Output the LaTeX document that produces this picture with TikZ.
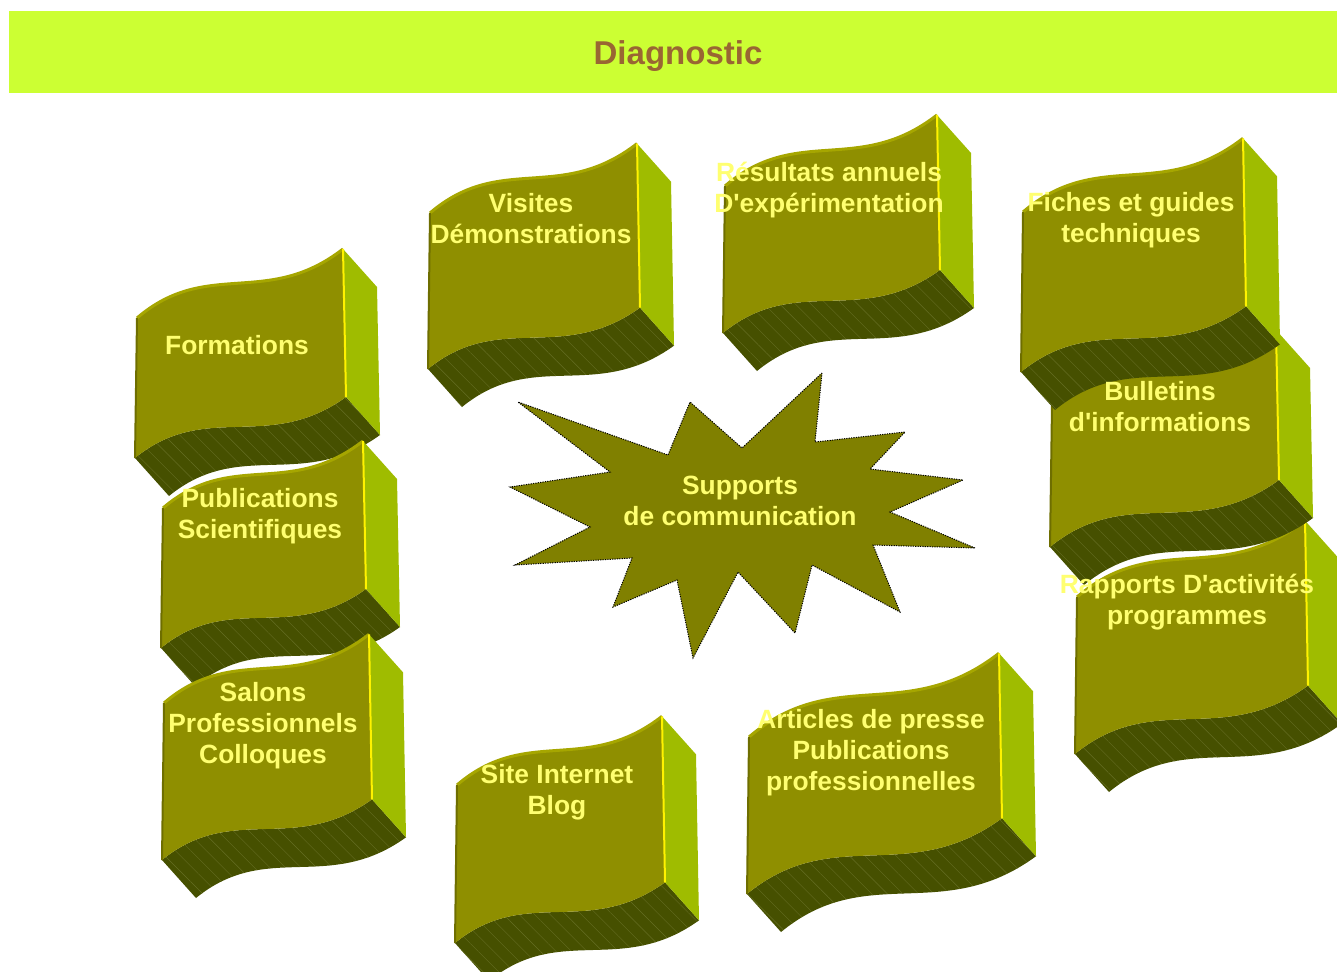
\documentclass[tikz,border=0pt]{standalone}
\usepackage{fontspec}
\setmainfont{Liberation Sans}
\usetikzlibrary{positioning, patterns.meta}

\definecolor{bannergreen}{HTML}{CCFF33}
\definecolor{titlebrown}{HTML}{996633}
\definecolor{labelyellow}{HTML}{FFFF70}
\definecolor{docfront}{HTML}{8F8F00}
\definecolor{docrimc}{HTML}{A6A600}
\definecolor{docleftc}{HTML}{6E6E00}
\definecolor{docsidec}{HTML}{9FBC00}
\definecolor{docbottomc}{HTML}{465000}
\definecolor{dochatch}{HTML}{8A9250}
\definecolor{staroliv}{HTML}{808000}

% wave shaped 3D block: #1 x, #2 y (front top left), #3 width, #4 height
\newcommand{\wavedoc}[4]{%
  \pgfmathsetmacro\wr{0.335*#3}%
  \coordinate (tl) at (#1,#2);
  \coordinate (t1) at (#1+0.34*#3,#2-0.87*\wr);
  \coordinate (t2) at (#1+0.63*#3,#2-0.14*\wr);
  \coordinate (tr) at (#1+#3,#2-\wr);
  \coordinate (br) at (#1+#3+3,#2-\wr+#4+8);
  \coordinate (b2) at (#1+0.63*#3+1,#2-0.14*\wr+#4+5);
  \coordinate (b1) at (#1+0.34*#3-1,#2-0.87*\wr+#4+2);
  \coordinate (bl) at (#1-2,#2+#4);
  % bottom and side faces
  \path[docbottom] (bl) .. controls (b1) and (b2) .. (br)
    -- ([shift={(34,38)}]br) .. controls ([shift={(34,38)}]b2) and ([shift={(34,38)}]b1) .. ([shift={(34,38)}]bl) -- cycle;
  \fill[docsidec] (tr) -- ([shift={(34,38)}]tr) -- ([shift={(34,38)}]br) -- (br) -- cycle;
  % front face
  \fill[docfront] (tl) .. controls (t1) and (t2) .. (tr) -- (br) .. controls (b2) and (b1) .. (bl) -- cycle;
  \draw[docrimc, line width=1.5pt] (tl) .. controls (t1) and (t2) .. (tr);
  \draw[docleftc, line width=1pt] (bl) -- (tl);
  \draw[yellow, line width=1pt] (tr) -- (br);
}

\begin{document}
\begin{tikzpicture}
    [
    x=0.5pt, y=-0.5pt,
    docbottom/.style = {fill=docbottomc, postaction={pattern={Lines[angle=-45,distance=5.5pt,line width=0.2pt]}, pattern color=dochatch!45!docbottomc}},
    doclabel/.style = {align=center, inner sep=0pt, text=labelyellow, font=\fontsize{13.2}{15.5}\selectfont\bfseries},
    title/.style = {inner sep=0pt, text=titlebrown, font=\fontsize{16.5}{18}\selectfont\bfseries},
    starburst/.style = {fill=staroliv, draw=black, line width=0.5pt, dash pattern=on 0.6pt off 0.6pt}
    ]
    \useasboundingbox (0,0) rectangle (1337,971);

    \fill[bannergreen] (9,11) rectangle (1337,93);
    \node[title] (diag) at (678,56) {Diagnostic};

    % left column
    \wavedoc{137}{318}{206}{140}
    \wavedoc{163}{508}{200}{140}
    \wavedoc{164}{703}{205}{157}
    % top row
    \wavedoc{430}{213}{207}{156}
    \wavedoc{725}{186}{212}{147}
    % right column
    \wavedoc{1077}{597}{228}{157}
    \wavedoc{1052}{405}{224}{142}
    \wavedoc{1023}{212}{220}{160}
    % bottom row
    \wavedoc{749}{737}{250}{157}
    \wavedoc{457}{785}{205}{158}

    % centre
    \draw[starburst] (822,373) -- (815,442) -- (905,432) -- (870,469) -- (963,480) -- (890,512)
        -- (975,548) -- (873,545) -- (900,612) -- (812,565) -- (795,633) -- (738,572)
        -- (693,658) -- (677,580) -- (613,607) -- (632,558) -- (515,565) -- (590,527)
        -- (510,487) -- (610,472) -- (518,402) -- (668,455) -- (690,402) -- (742,448) -- cycle;

    % labels
    \node[doclabel] (formations) at (237,345) {Formations};
    \node[doclabel] (pubsci) at (260,516) {Publications\\Scientifiques};
    \node[doclabel] (salons) at (263,726) {Salons\\Professionnels\\Colloques};
    \node[doclabel] (visites) at (531,219) {Visites\\Démonstrations};
    \node[doclabel] (resultats) at (829,190.5) {Résultats annuels\\D\textquotesingle expérimentation};
    \node[doclabel] (rapports) at (1187,602) {Rapports D\textquotesingle activités\\programmes};
    \node[doclabel] (bulletins) at (1160,407) {Bulletins\\d\textquotesingle informations};
    \node[doclabel] (fiches) at (1131,220) {Fiches et guides\\techniques};
    \node[doclabel] (articles) at (871,753) {Articles de presse\\Publications\\professionnelles};
    \node[doclabel] (site) at (557,792) {Site Internet\\Blog};
    \node[doclabel] (supports) at (740,501) {Supports\\de communication};
\end{tikzpicture}
\end{document}
